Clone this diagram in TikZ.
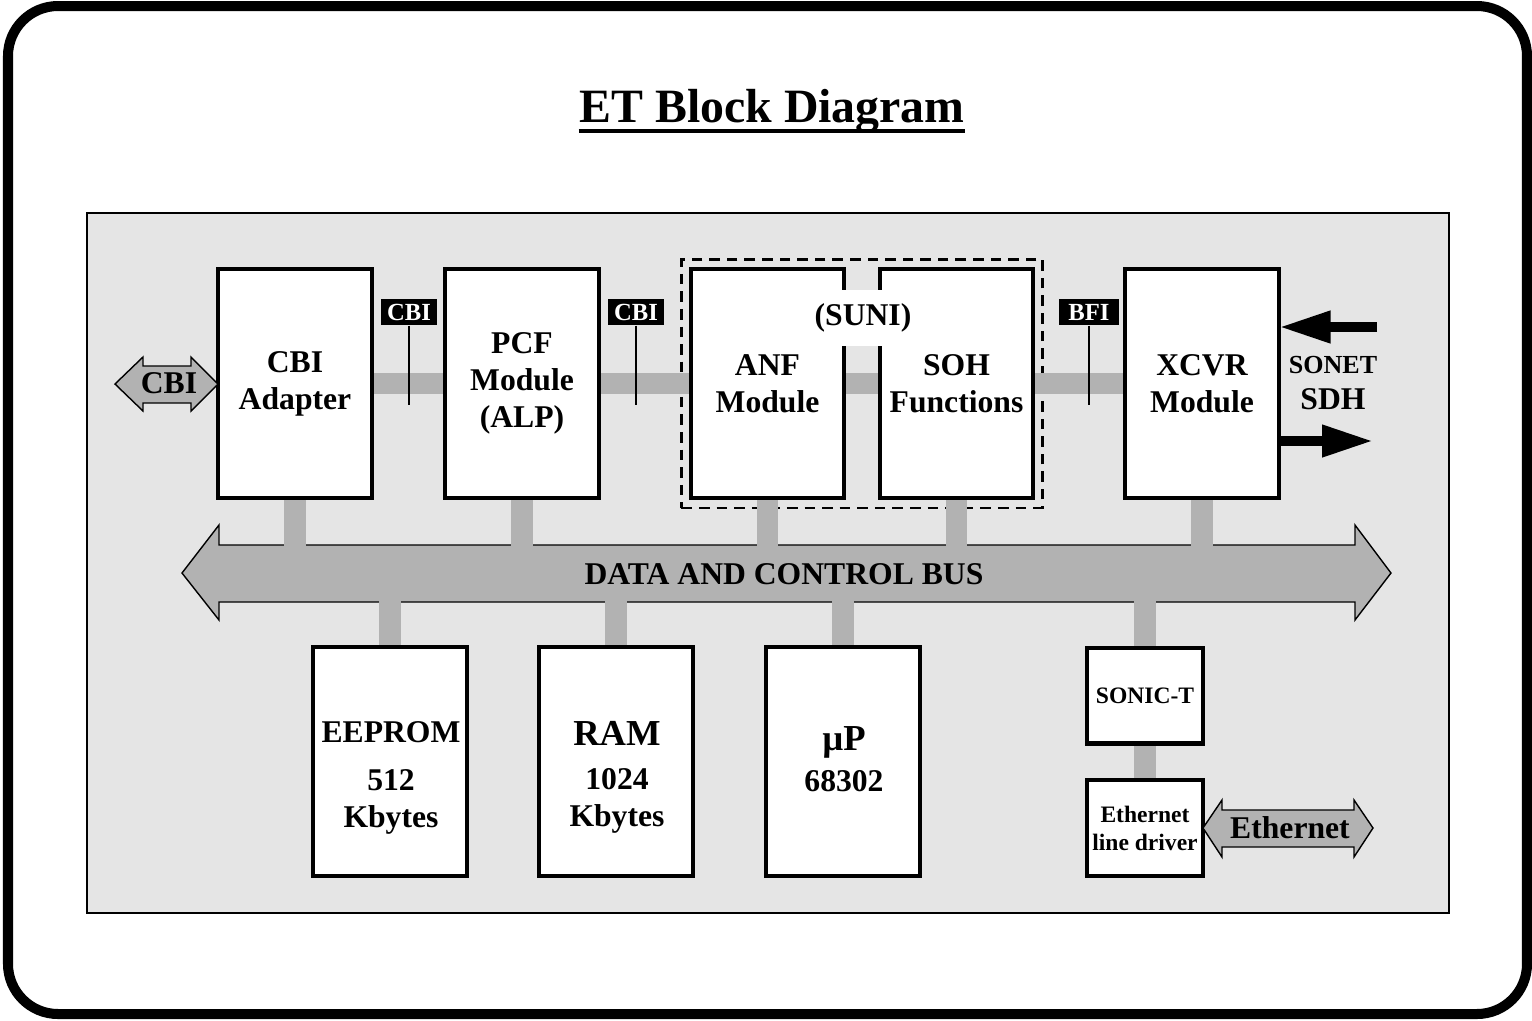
\documentclass[tikz,border=0pt]{standalone}
\usepackage{fontspec}
\setmainfont{Liberation Serif}
\usetikzlibrary{arrows.meta,positioning,fit}
\definecolor{panelgray}{gray}{0.90}
\definecolor{busgray}{gray}{0.70}

\begin{document}
\begin{tikzpicture}[x=0.01cm,y=-0.01cm,
  font=\bfseries\fontsize{9}{10.5}\selectfont,
  >={Triangle[length=14.5pt,width=8.6pt]},
  blk/.style={draw, line width=0.85pt, fill=white, minimum width=1.52cm, minimum height=2.27cm, inner sep=0pt, align=center},
  smallblk/.style={blk, minimum width=1.14cm, minimum height=0.94cm, font=\bfseries\fontsize{6.7}{8}\selectfont},
  stub/.style={draw=busgray, line width=6.2pt},
  tag/.style={fill=black, text=white, inner sep=0pt, minimum width=0.56cm, minimum height=0.26cm, font=\bfseries\fontsize{7}{8}\selectfont},
  tagline/.style={draw=black, line width=0.85pt},
  fatarrow/.style={draw=black, line width=0.4pt, fill=busgray},
  sig/.style={draw=black, line width=2.7pt},
]
\useasboundingbox (0,0) rectangle (1532,1020);
% ---------------- frame and title ----------------
\draw[line width=2.85pt, rounded corners=0.5cm] (8,6) rectangle (1527,1014);
\node[inner sep=0pt, font=\bfseries\fontsize{13.6}{16}\selectfont] (title) at (772,111) {ET Block Diagram};
\draw[line width=1.1pt] ([yshift=-0.09cm]title.base west) -- ([yshift=-0.09cm]title.base east);
\draw[line width=0.75pt, fill=panelgray] (87,213) rectangle (1449,913);
% ---------------- bus ----------------
\draw[fatarrow] (182,573) -- (219,525) -- (219,545) -- (1355,545) -- (1355,525) -- (1391,573)
  -- (1355,620) -- (1355,602) -- (219,602) -- (219,620) -- cycle;
\node (bus) at (784,574) {DATA AND CONTROL BUS};
% ---------------- upper row ----------------
\node[blk] (cbiad) at (295,383.5) {CBI\\Adapter};
\node[blk] (pcf) at (522,383.5) {PCF\\Module\\(ALP)};
\node[blk, minimum width=1.51cm] (anf) at (767.5,383.5) {ANF\\Module};
\node[blk, minimum width=1.51cm] (soh) at (956.5,383.5) {SOH\\Functions};
\node[blk] (xcvr) at (1202,383.5) {XCVR\\Module};
\node[draw, line width=0.6pt, dash pattern=on 3pt off 2pt, inner sep=0.09cm, fit=(anf)(soh)] (suni) {};
% ---------------- lower row ----------------
\node[blk] (eeprom) at (390,761.5) {};
\node[blk] (ram) at (616,761.5) {};
\node[blk] (up) at (843,761.5) {};
\node[smallblk] (sonic) at (1145,695.5) {SONIC-T};
\node[smallblk] (ethdrv) at (1145,828) {Ethernet\\line driver};
\node[align=center] (eeprom-t) at (391,778) {EEPROM\\[3pt]512\\Kbytes};
\node[align=center] (ram-t) at (617,777) {{\fontsize{10.4}{12}\selectfont RAM}\\[2pt]1024\\Kbytes};
\node[align=center] (up-t) at (844,759) {{\fontsize{10.4}{12}\selectfont µP}\\[1pt]68302};
% ---------------- links ----------------
\draw[stub] (cbiad.east) -- (pcf.west);
\draw[stub] (pcf.east) -- (anf.west);
\draw[stub] (anf.east) -- (soh.west);
\draw[stub] (soh.east) -- (xcvr.west);
\foreach \b in {cbiad,pcf,anf,soh,xcvr}
  \draw[stub] (\b.south) -- ++(0,50);
\foreach \b in {eeprom,ram,up,sonic}
  \draw[stub] (\b.north) -- ++(0,-48);
\draw[stub] (sonic.south) -- (ethdrv.north);
% redraw boxes over the stub ends
\foreach \b in {cbiad,pcf,anf,soh,xcvr,eeprom,ram,up}
  \draw[line width=0.85pt] (\b.north west) rectangle (\b.south east);
\foreach \b in {sonic,ethdrv}
  \draw[line width=0.85pt] (\b.north west) rectangle (\b.south east);
\node[fill=white, inner sep=4pt] (suni-t) at (863,318) {(SUNI)};
% ---------------- interface tags ----------------
\node[tag] (tag1) at (409,312) {CBI};
\node[tag] (tag2) at (636,312) {CBI};
\node[tag, minimum width=0.6cm] (tag3) at (1089,312) {BFI};
\foreach \t in {tag1,tag2,tag3}
  \draw[tagline] (\t.south) -- ++(0,79);
% ---------------- external links ----------------
\draw[fatarrow] (115,384) -- (143,357) -- (143,366) -- (191,366) -- (191,357) -- (218,384)
  -- (191,411) -- (191,403) -- (143,403) -- (143,411) -- cycle;
\node (cbiext) at (169,383) {CBI};
\draw[fatarrow] (1203,828) -- (1222,800) -- (1222,810) -- (1354,810) -- (1354,800) -- (1373,828)
  -- (1354,857) -- (1354,847) -- (1222,847) -- (1222,857) -- cycle;
\node (ethext) at (1290,828) {Ethernet};
\coordinate (sonin) at (1377,327);
\coordinate (sonout) at (1373,441);
\draw[sig,->] (sonin) -- (sonin -| xcvr.east);
\draw[sig,->] (sonout -| xcvr.east) -- (sonout);
\node[align=center] (sonet) at (1333,383) {{\fontsize{7.4}{9.5}\selectfont SONET}\\SDH};
\end{tikzpicture}
\end{document}
